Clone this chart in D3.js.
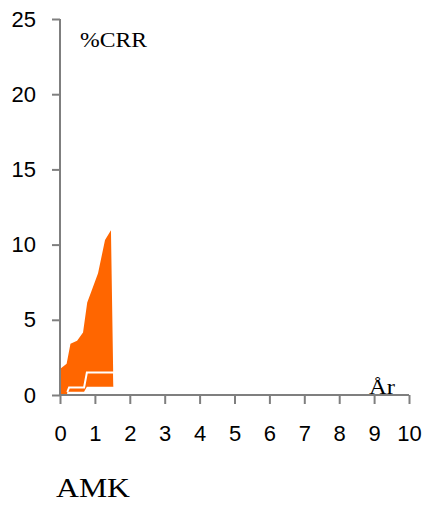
<!DOCTYPE html>
<html>
<head>
<meta charset="utf-8">
<script src="https://cdn.jsdelivr.net/npm/d3@7"></script>
<style>
  html, body { margin: 0; padding: 0; background: #fff; }
  svg { display: block; }
</style>
</head>
<body>
<div id="chart"></div>
<script>
// ---- data ----
const xTicks = [0, 1, 2, 3, 4, 5, 6, 7, 8, 9, 10];
const yTicks = [0, 5, 10, 15, 20, 25];
// upper confidence bound (years, %CRR)
const upperT = [0, 0, 0.19, 0.30, 0.49, 0.66, 0.78, 0.90, 1.09, 1.29, 1.46];
const upperV = [0, 1.73, 2.07, 3.40, 3.60, 4.15, 6.15, 6.90, 8.10, 10.30, 10.95];
// lower confidence bound
const lowerT = [0, 0.20, 0.21, 0.69, 0.77, 1.53];
const lowerV = [0, 0, 0.22, 0.22, 0.55, 0.55];
// estimate (white line)
const estT = [0.21, 0.26, 0.69, 0.77, 1.55, 1.57];
const estV = [0.20, 0.50, 0.50, 1.49, 1.49, 0.55];
const yLabel = "%CRR";
const xLabel = "År";
const title = "AMK";

// ---- layout ----
const W = 430, H = 508;
const svg = d3.select("#chart").append("svg").attr("width", W).attr("height", H);

const x = d3.scaleLinear().domain([0, 10]).range([60, 409]);
const y = d3.scaleLinear().domain([0, 25]).range([395, 19]);

const axisColor = "#7f7f7f";
const sans = "'Liberation Sans', Arial, sans-serif";
const serif = "'Liberation Serif', 'Times New Roman', serif";

// band polygon
const upperPts = upperT.map((t, i) => [t, upperV[i]]);
const lowerPts = lowerT.map((t, i) => [t, lowerV[i]]).reverse();
const poly = upperPts.concat(lowerPts);
const line = d3.line().x(d => x(d[0])).y(d => y(d[1]));
svg.append("path")
  .attr("d", line(poly) + "Z")
  .attr("fill", "#ff6600")
  .attr("stroke", "none");

// estimate line
svg.append("path")
  .attr("d", line(estT.map((t, i) => [t, estV[i]])))
  .attr("fill", "none")
  .attr("stroke", "#ffffff")
  .attr("stroke-width", 2);

// axes
const xAxis = svg.append("g")
  .attr("transform", `translate(0,${y(0)})`)
  .call(d3.axisBottom(x).tickValues(xTicks).tickSize(9).tickPadding(21).tickFormat(d3.format("d")));
const yAxis = svg.append("g")
  .attr("transform", `translate(${x(0)},0)`)
  .call(d3.axisLeft(y).tickValues(yTicks).tickSize(8).tickPadding(16).tickFormat(d3.format("d")));

[xAxis, yAxis].forEach(g => {
  g.select(".domain").attr("stroke", axisColor).attr("stroke-width", 2);
  g.selectAll(".tick line").attr("stroke", axisColor).attr("stroke-width", 2);
  g.selectAll(".tick text").attr("fill", "#000").attr("font-family", sans).attr("font-size", 22);
});
// make domains plain lines (no outer ticks)
xAxis.select(".domain").attr("d", `M${x(0)},0H${x(10)}`);
yAxis.select(".domain").attr("d", `M0,${y(25)}V${y(0)}`);

// texts
svg.append("text")
  .attr("x", 80).attr("y", 47)
  .attr("font-family", serif).attr("font-size", 21)
  .attr("textLength", 67).attr("lengthAdjust", "spacingAndGlyphs")
  .text(yLabel);
svg.append("text")
  .attr("x", 369).attr("y", 394)
  .attr("font-family", serif).attr("font-size", 21)
  .attr("textLength", 26).attr("lengthAdjust", "spacingAndGlyphs")
  .text(xLabel);
svg.append("text")
  .attr("x", 56).attr("y", 497)
  .attr("font-family", serif).attr("font-size", 27)
  .attr("textLength", 74).attr("lengthAdjust", "spacingAndGlyphs")
  .text(title);
</script>
</body>
</html>
